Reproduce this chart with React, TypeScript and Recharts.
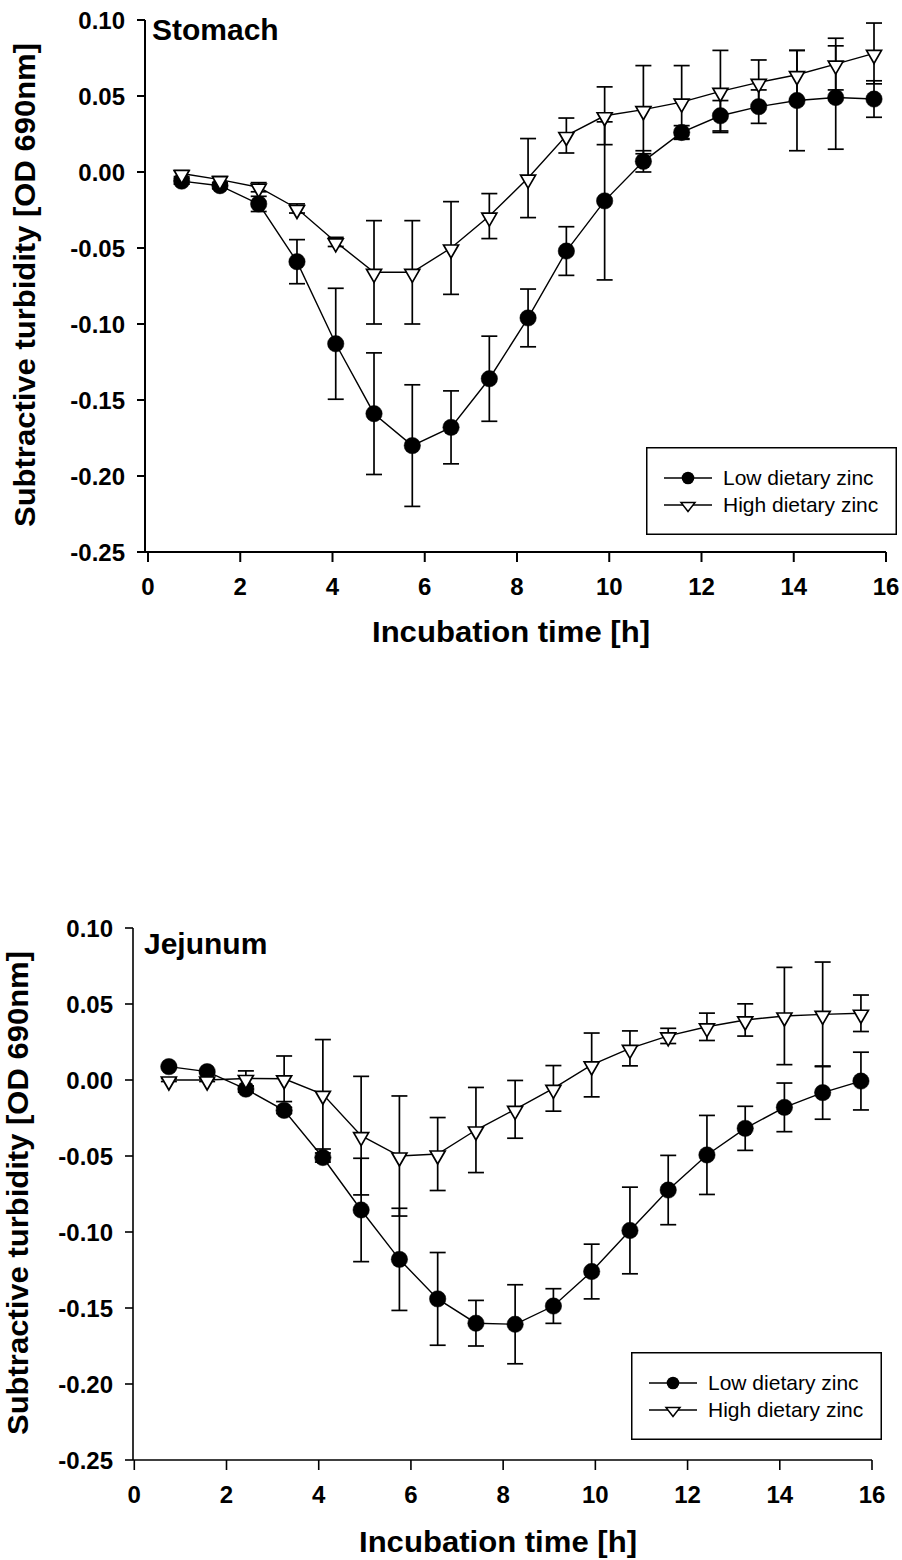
import React from 'react';
import { ComposedChart, Line, XAxis, YAxis, ErrorBar, Legend } from 'recharts';

const FONT = '"Liberation Sans", Arial, Helvetica, sans-serif';

// ---- Data ----
const stomachTimes = [0.73, 1.56, 2.4, 3.23, 4.07, 4.9, 5.73, 6.57, 7.4, 8.24, 9.07, 9.9, 10.74, 11.57, 12.41, 13.24, 14.07, 14.91, 15.74];
const stomachLow = [-0.006, -0.009, -0.021, -0.059, -0.113, -0.159, -0.18, -0.168, -0.136, -0.096, -0.052, -0.019, 0.007, 0.026, 0.037, 0.043, 0.047, 0.049, 0.048];
const stomachLowErr = [0.002, 0.002, 0.005, 0.0145, 0.0365, 0.04, 0.04, 0.024, 0.028, 0.019, 0.016, 0.052, 0.007, 0.0045, 0.01, 0.011, 0.033, 0.034, 0.012];
const stomachHigh = [-0.001, -0.005, -0.01, -0.024, -0.046, -0.066, -0.066, -0.05, -0.029, -0.004, 0.024, 0.037, 0.041, 0.046, 0.053, 0.059, 0.064, 0.071, 0.078];
const stomachHighErr = [0.002, 0.002, 0.003, 0.003, 0.003, 0.034, 0.034, 0.0305, 0.0148, 0.026, 0.0115, 0.019, 0.029, 0.024, 0.027, 0.0147, 0.016, 0.017, 0.02];

const jejunumTimes = [0.75, 1.58, 2.42, 3.25, 4.09, 4.92, 5.75, 6.58, 7.41, 8.26, 9.09, 9.92, 10.75, 11.58, 12.42, 13.25, 14.1, 14.93, 15.76];
const jejunumLow = [0.0088, 0.0055, -0.006, -0.02, -0.051, -0.0855, -0.118, -0.144, -0.16, -0.1607, -0.1487, -0.126, -0.099, -0.0724, -0.0493, -0.0318, -0.018, -0.0083, -0.0007];
const jejunumLowErr = [0.001, 0.001, 0.002, 0.002, 0.003, 0.034, 0.0336, 0.0305, 0.015, 0.026, 0.0114, 0.018, 0.0285, 0.0228, 0.026, 0.0145, 0.016, 0.0175, 0.019];
const jejunumHigh = [0, 0, 0.001, 0.0008, -0.0094, -0.0366, -0.05, -0.0487, -0.0329, -0.0193, -0.0055, 0.0099, 0.0208, 0.029, 0.035, 0.0395, 0.0421, 0.0432, 0.0439];
const jejunumHighErr = [0.001, 0.001, 0.005, 0.015, 0.036, 0.039, 0.0395, 0.024, 0.028, 0.019, 0.015, 0.021, 0.0115, 0.005, 0.009, 0.0106, 0.032, 0.0344, 0.012];

const xTicks = [0, 2, 4, 6, 8, 10, 12, 14, 16];
const yTicks = [-0.25, -0.2, -0.15, -0.1, -0.05, 0, 0.05, 0.1];
const seriesNames = ['Low dietary zinc', 'High dietary zinc'];
const seriesKeys = ['low', 'high'];
const xTitle = 'Incubation time [h]';
const yTitle = 'Subtractive turbidity [OD 690nm]';

function buildRows(times: number[], low: number[], lowErr: number[], high: number[], highErr: number[]) {
  return times.map((t, i) => ({ t, low: low[i], lowErr: lowErr[i], high: high[i], highErr: highErr[i] }));
}

const stomachRows = buildRows(stomachTimes, stomachLow, stomachLowErr, stomachHigh, stomachHighErr);
const jejunumRows = buildRows(jejunumTimes, jejunumLow, jejunumLowErr, jejunumHigh, jejunumHighErr);

const CircleDot = (props: any) => {
  const { cx, cy, index } = props;
  if (cx == null || cy == null) return <g key={`c${index}`} />;
  return <circle key={`c${index}`} cx={cx} cy={cy} r={8.2} fill="#000" stroke="#000" strokeWidth={0.5} />;
};

const TriangleDot = (props: any) => {
  const { cx, cy, index } = props;
  if (cx == null || cy == null) return <g key={`t${index}`} />;
  const pts = `${cx - 7.5},${cy - 3} ${cx + 7.5},${cy - 3} ${cx},${cy + 10}`;
  return <polygon key={`t${index}`} points={pts} fill="#fff" stroke="#000" strokeWidth={1.7} />;
};

const makeLegend = (w: number, h: number) => (props: any) => {
  const items = (props.payload || []).filter((p: any) => p.type !== 'none' && seriesKeys.includes(p.dataKey));
  const byKey: Record<string, string> = {};
  items.forEach((p: any) => { byKey[p.dataKey] = p.value; });
  const list = seriesKeys.map((k, i) => ({ key: k, name: byKey[k] || seriesNames[i] }));
  return (
    <svg width={w} height={h} style={{ display: 'block' }}>
      <rect x={0.75} y={0.75} width={w - 1.5} height={h - 1.5} fill="#fff" stroke="#000" strokeWidth={1.5} />
      {list.map((it, i) => {
        const cy = i === 0 ? 31 : 58;
        return (
          <g key={it.key}>
            <line x1={18} y1={cy} x2={66} y2={cy} stroke="#000" strokeWidth={1.5} />
            {it.key === 'low' ? (
              <circle cx={42} cy={cy} r={6.3} fill="#000" />
            ) : (
              <polygon points={`${35},${cy - 2.5} ${49},${cy - 2.5} ${42},${cy + 6.5}`} fill="#fff" stroke="#000" strokeWidth={1.5} />
            )}
            <text x={77} y={cy + 7} fontFamily={FONT} fontSize={21} fill="#000">{it.name}</text>
          </g>
        );
      })}
    </svg>
  );
};

type PanelProps = {
  top: number;
  height: number;
  rows: any[];
  margin: { top: number; right: number; left: number; bottom: number };
  yAxisWidth: number;
  xAxisHeight: number;
  xDomain: [number, number];
  axisWidth: number;
  legendPos: { left: number; top: number };
  panelLabel: { text: string; x: number; y: number };
  yTitlePos: { x: number; y: number };
  xTitlePos: { x: number; y: number };
};

function Panel(p: PanelProps) {
  const tickStyle = { fontSize: 24, fontWeight: 'bold', fill: '#000', fontFamily: FONT };
  return (
    <div style={{ position: 'absolute', left: 0, top: p.top, width: 902, height: p.height }}>
      <ComposedChart width={902} height={p.height} data={p.rows} margin={p.margin}>
        <XAxis
          dataKey="t"
          type="number"
          domain={p.xDomain}
          ticks={xTicks}
          interval={0}
          allowDataOverflow
          height={p.xAxisHeight}
          tickSize={10}
          tickMargin={16}
          axisLine={{ stroke: '#000', strokeWidth: p.axisWidth }}
          tickLine={{ stroke: '#000', strokeWidth: p.axisWidth }}
          tick={tickStyle}
        />
        <YAxis
          type="number"
          domain={[-0.25, 0.1]}
          ticks={yTicks}
          interval={0}
          allowDataOverflow
          width={p.yAxisWidth}
          tickSize={8}
          tickMargin={12}
          tickFormatter={(v: number) => v.toFixed(2)}
          axisLine={{ stroke: '#000', strokeWidth: p.axisWidth }}
          tickLine={{ stroke: '#000', strokeWidth: p.axisWidth }}
          tick={tickStyle}
        />
        <Line dataKey="low" stroke="none" dot={false} activeDot={false} legendType="none" isAnimationActive={false}>
          <ErrorBar dataKey="lowErr" direction="y" width={8} stroke="#000" strokeWidth={1.7} isAnimationActive={false} />
        </Line>
        <Line dataKey="high" stroke="none" dot={false} activeDot={false} legendType="none" isAnimationActive={false}>
          <ErrorBar dataKey="highErr" direction="y" width={8} stroke="#000" strokeWidth={1.7} isAnimationActive={false} />
        </Line>
        <Line
          name={seriesNames[0]}
          dataKey="low"
          type="linear"
          stroke="#000"
          strokeWidth={1.4}
          dot={CircleDot}
          activeDot={false}
          legendType="circle"
          isAnimationActive={false}
        />
        <Line
          name={seriesNames[1]}
          dataKey="high"
          type="linear"
          stroke="#000"
          strokeWidth={1.4}
          dot={TriangleDot}
          activeDot={false}
          legendType="triangle"
          isAnimationActive={false}
        />
        <Legend
          layout="horizontal"
          align="center"
          verticalAlign="middle"
          content={makeLegend(251, 88)}
          wrapperStyle={{ position: 'absolute', left: p.legendPos.left, top: p.legendPos.top, width: 251, height: 88, margin: 0, padding: 0 }}
        />
      </ComposedChart>
      <svg width={902} height={p.height} style={{ position: 'absolute', left: 0, top: 0, pointerEvents: 'none' }}>
        <text x={p.panelLabel.x} y={p.panelLabel.y} fontFamily={FONT} fontSize={30} fontWeight="bold" fill="#000">
          {p.panelLabel.text}
        </text>
        <text
          x={p.yTitlePos.x}
          y={p.yTitlePos.y}
          transform={`rotate(-90 ${p.yTitlePos.x} ${p.yTitlePos.y})`}
          textAnchor="middle"
          fontFamily={FONT}
          fontSize={30}
          fontWeight="bold"
          fill="#000"
          textLength={484}
          lengthAdjust="spacingAndGlyphs"
        >
          {yTitle}
        </text>
        <text
          x={p.xTitlePos.x}
          y={p.xTitlePos.y}
          textAnchor="middle"
          fontFamily={FONT}
          fontSize={30}
          fontWeight="bold"
          fill="#000"
          textLength={278}
          lengthAdjust="spacingAndGlyphs"
        >
          {xTitle}
        </text>
      </svg>
    </div>
  );
}

export default function App() {
  return (
    <div style={{ position: 'absolute', left: 0, top: 0, width: 902, height: 1560, background: '#fff', fontFamily: FONT }}>
      <Panel
        top={0}
        height={680}
        rows={stomachRows}
        margin={{ top: 20, right: 16, left: 0, bottom: 0 }}
        yAxisWidth={145}
        xAxisHeight={128}
        xDomain={[-0.065, 16]}
        axisWidth={2}
        legendPos={{ left: 646, top: 447 }}
        panelLabel={{ text: 'Stomach', x: 152, y: 40 }}
        yTitlePos={{ x: 35, y: 285 }}
        xTitlePos={{ x: 511, y: 642 }}
      />
      <Panel
        top={760}
        height={800}
        rows={jejunumRows}
        margin={{ top: 168, right: 30, left: 0, bottom: 0 }}
        yAxisWidth={133}
        xAxisHeight={100}
        xDomain={[-0.028, 16]}
        axisWidth={1.6}
        legendPos={{ left: 631, top: 592 }}
        panelLabel={{ text: 'Jejunum', x: 144, y: 194 }}
        yTitlePos={{ x: 28, y: 433 }}
        xTitlePos={{ x: 498, y: 792 }}
      />
    </div>
  );
}
